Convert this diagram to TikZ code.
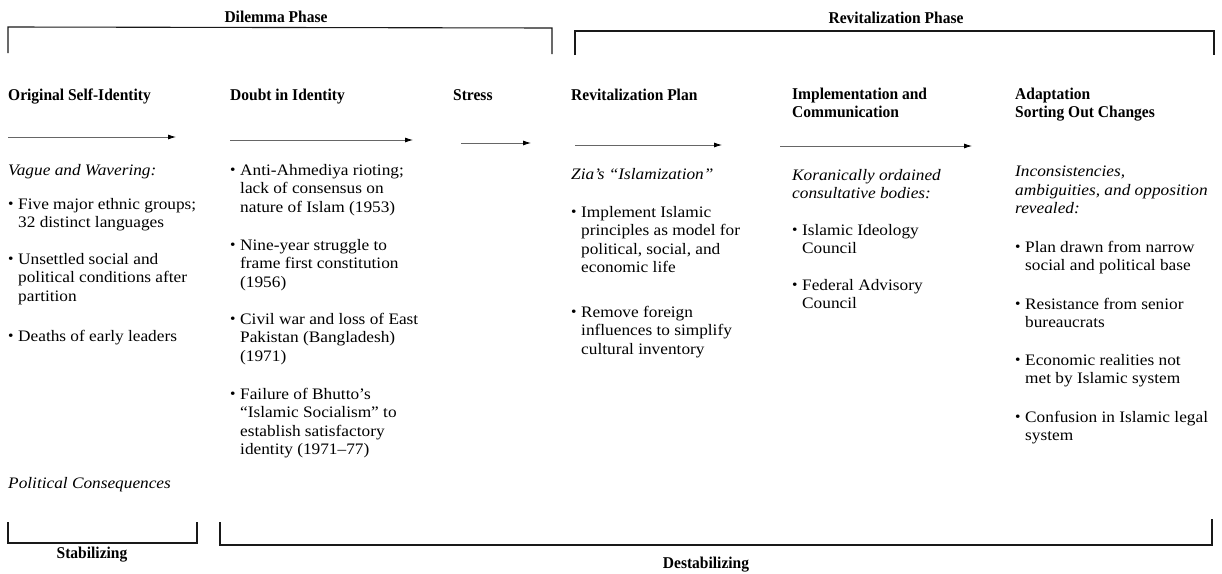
\documentclass[tikz,border=0pt]{standalone}
\usepackage{fontspec}
\setmainfont{Liberation Serif}[FakeStretch=1.08]
\newfontfamily\headfam{Liberation Serif}[FakeStretch=0.94]
\usetikzlibrary{arrows.meta}
\newcommand{\bodyf}{\fontsize{16}{18.4}\selectfont}
\newcommand{\headf}{\fontsize{16.5}{18}\selectfont\headfam\bfseries}
\newcommand{\bul}{\makebox[10pt][l]{\raisebox{0.1ex}{\scalebox{0.9}{\textbullet}}}}
\newcommand{\ind}{\hspace*{10pt}}
\tikzset{
  txt/.style={anchor=north west, inner sep=0pt, align=left, font=\bodyf, execute at begin node=\strut},
  itx/.style={txt, font=\bodyf\itshape},
  head/.style={anchor=north west, inner sep=0pt, align=left, font=\headf, execute at begin node=\strut},
  lbl/.style={anchor=base, inner sep=0pt, font=\headf},
  brk/.style={line width=1.1pt, black!90},
  flow/.style={line width=0.8pt, black!60, -{Latex[length=8pt,width=5pt,color=black]}},
}
\begin{document}
\begin{tikzpicture}[x=1pt,y=-1pt]
\useasboundingbox (0,0) rectangle (1222,573);
% phase brackets
\draw[brk] (8,53) -- (8,27) -- (552,28) -- (552,54);
\node[lbl] (dil) at (276,22) {Dilemma Phase};
\draw[brk] (575,55) -- (575,31) -- (1214,31) -- (1214,55);
\node[lbl] (rev) at (896,23) {Revitalization Phase};
% headings
\node[head] (h1) at (8,88) {Original Self-Identity};
\node[head] (h2) at (230,88) {Doubt in Identity};
\node[head] (h3) at (453,88) {Stress};
\node[head] (h4) at (571,88) {Revitalization Plan};
\node[head] (h5) at (792,88) {Implementation and\\Communication};
\node[head] (h6) at (1015,88) {Adaptation\\Sorting Out Changes};
% arrows
\coordinate (a1s) at (8,137); \coordinate (a1e) at (176,137);
\coordinate (a2s) at (230,140); \coordinate (a2e) at (413,140);
\coordinate (a3s) at (461,143); \coordinate (a3e) at (531,143);
\coordinate (a4s) at (575,145); \coordinate (a4e) at (722,145);
\coordinate (a5s) at (780,146); \coordinate (a5e) at (972,146);
\draw[flow] (a1s) -- (a1e);
\draw[flow] (a2s) -- (a2e);
\draw[flow] (a3s) -- (a3e);
\draw[flow] (a4s) -- (a4e);
\draw[flow] (a5s) -- (a5e);
% column 1
\node[itx] (c1t) at (8,162) {Vague and Wavering:};
\node[txt] (c1a) at (8,198) {\bul Five major ethnic groups;\\\ind 32 distinct languages};
\node[txt] (c1b) at (8,253) {\bul Unsettled social and\\\ind political conditions after\\\ind partition};
\node[txt] (c1c) at (8,328) {\bul Deaths of early leaders};
\node[itx] (c1p) at (8,475) {Political Consequences};
% column 2
\node[txt] (c2a) at (230,164) {\bul Anti-Ahmediya rioting;\\\ind lack of consensus on\\\ind nature of Islam (1953)};
\node[txt] (c2b) at (230,239) {\bul Nine-year struggle to\\\ind frame first constitution\\\ind (1956)};
\node[txt] (c2c) at (230,313) {\bul Civil war and loss of East\\\ind Pakistan (Bangladesh)\\\ind (1971)};
\node[txt] (c2d) at (230,388) {\bul Failure of Bhutto's\\\ind ``Islamic Socialism'' to\\\ind establish satisfactory\\\ind identity (1971--77)};
% column 4
\node[itx] (c4t) at (571,166) {Zia's ``Islamization''};
\node[txt] (c4a) at (571,206) {\bul Implement Islamic\\\ind principles as model for\\\ind political, social, and\\\ind economic life};
\node[txt] (c4b) at (571,306) {\bul Remove foreign\\\ind influences to simplify\\\ind cultural inventory};
% column 5
\node[itx] (c5t) at (792,169) {Koranically ordained\\consultative bodies:};
\node[txt] (c5a) at (792,224) {\bul Islamic Ideology\\\ind Council};
\node[txt] (c5b) at (792,279) {\bul Federal Advisory\\\ind Council};
% column 6
\node[itx] (c6t) at (1015,166) {Inconsistencies,\\ambiguities, and opposition\\revealed:};
\node[txt] (c6a) at (1015,241) {\bul Plan drawn from narrow\\\ind social and political base};
\node[txt] (c6b) at (1015,298) {\bul Resistance from senior\\\ind bureaucrats};
\node[txt] (c6c) at (1015,354) {\bul Economic realities not\\\ind met by Islamic system};
\node[txt] (c6d) at (1015,411) {\bul Confusion in Islamic legal\\\ind system};
% bottom brackets
\draw[brk] (8,522) -- (8,543) -- (197,543) -- (197,522);
\node[lbl] (stab) at (92,558) {Stabilizing};
\draw[brk] (220,522) -- (220,545) -- (1212,545) -- (1212,519);
\node[lbl] (destab) at (706,568) {Destabilizing};
\end{tikzpicture}
\end{document}
